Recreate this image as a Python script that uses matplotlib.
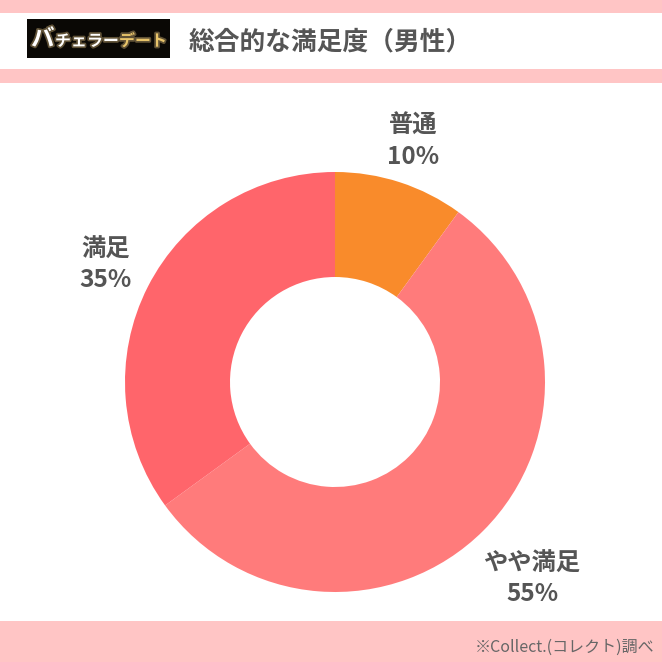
import numpy as np
import matplotlib.pyplot as plt
import matplotlib.patheffects as pe
from matplotlib.patches import Rectangle

plt.rcParams['font.family'] = ['Noto Sans CJK JP', 'DejaVu Sans']

W = H = 662

title = '総合的な満足度（男性）'
source = '※Collect.(コレクト)調べ'
labels = ['普通', 'やや満足', '満足']
values = [10, 55, 35]
colors = ['#F98B2B', '#FF7B7B', '#FF656B']

pink = '#FFC5C5'
grey = '#555555'

fig = plt.figure(figsize=(W / 100, H / 100), dpi=100)
fig.patch.set_facecolor('white')


def px_box(x0, y0, x1, y1, color, z=0):
    # rectangle in pixel coords, y measured from the top
    fig.patches.append(Rectangle((x0 / W, 1 - y1 / H), (x1 - x0) / W, (y1 - y0) / H,
                                 transform=fig.transFigure, facecolor=color,
                                 edgecolor='none', zorder=z))


def px_text(x, y, s, **kw):
    return fig.text(x / W, 1 - y / H, s, **kw)


# pink bands
px_box(0, 0, W, 13, pink)
px_box(0, 69, W, 83, pink)
px_box(0, 621, W, H, pink)

# logo
px_box(27, 19, 170, 58, '#0a0805', 1)
glow = [pe.withStroke(linewidth=2.5, foreground='#5e5035')]
px_text(31, 39, 'バ', color='white', fontsize=17, fontweight='bold',
        va='center', ha='left', path_effects=glow, zorder=3)
px_text(55, 41, 'チェラー', color='white', fontsize=11.5, fontweight='bold',
        va='center', ha='left', path_effects=glow, zorder=3)
px_text(119, 41, 'デート', color='#E8C46A', fontsize=11.5, fontweight='bold',
        va='center', ha='left', path_effects=glow, zorder=3)

# title
px_text(189, 42, title, color=grey, fontsize=18.5, fontweight='bold',
        va='center', ha='left')

# source
px_text(654, 647, source, color='#666666', fontsize=11.5, va='center', ha='right')

# donut
cx, cy, r = 335, 382, 210
ax = fig.add_axes([(cx - r) / W, (H - cy - r) / H, 2 * r / W, 2 * r / H])
wedges, _ = ax.pie(values, colors=colors, startangle=90, counterclock=False,
                   radius=1, wedgeprops=dict(width=0.5, edgecolor='none'))
ax.set_xlim(-1, 1)
ax.set_ylim(-1, 1)
ax.set_aspect('equal')
ax.axis('off')

dist = [1.205, 1.327, 1.227]
for w, lab, v, d in zip(wedges, labels, values, dist):
    ang = np.deg2rad((w.theta1 + w.theta2) / 2)
    ax.text(d * np.cos(ang), d * np.sin(ang), f'{lab}\n{v}%', ha='center', va='center',
            color=grey, fontsize=17.5, fontweight='bold', linespacing=1.35, clip_on=False)

fig.savefig('out.png', dpi=100, facecolor=fig.get_facecolor())
